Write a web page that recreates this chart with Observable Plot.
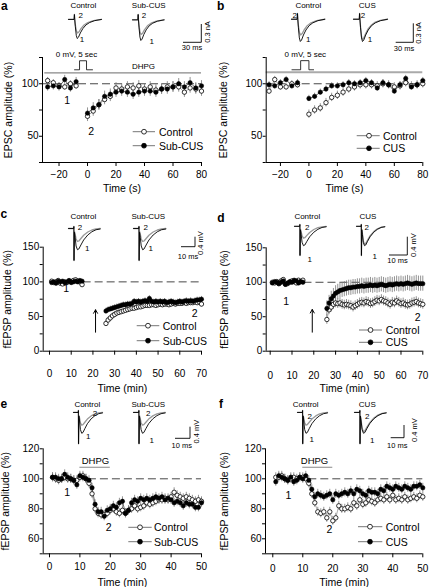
<!DOCTYPE html>
<html><head><meta charset="utf-8">
<script src="https://cdn.jsdelivr.net/npm/d3@7"></script>
<script src="https://cdn.jsdelivr.net/npm/@observablehq/plot@0.6"></script>
<style>
body{margin:0;background:#fff;}
#root{position:relative;width:429px;height:587px;overflow:hidden;background:#fff;font-family:"Liberation Sans",Arial,Helvetica,sans-serif;}
</style></head>
<body><div id="root"></div>
<script>
const FONT = '"Liberation Sans", Arial, Helvetica, sans-serif';

// ---------------- DATA ----------------
// Panels a, b: EPSC amplitude (%) vs time (s)
const abPreT = [-28,-24,-20,-16,-12,-8];
const abPostT = [0,4,8,12,16,20,24,28,32,36,40,44,48,52,56,60,64,68,72,76,80];
const aCtrlPre = [103,101,98,97,100,98];
const aSubPre = [97,98,97,104,96,102];
const aCtrlPost = [69,74,80,85,88,96,95,97,96,98,95,97,94,95,97,97,97,92,96,95,93];
const aSubPost = [72,77,80,88,90,92,93,92,90,92,93,93,92,95,95,97,100,97,101,96,98];
const bCtrlPre = [93,104,97,97,100,99];
const bCusPre = [99,98,101,104,98,101];
const bCtrlPost = [71,75,77,82,87,89,92,95,97,99,99,99,98,100,99,97,98,101,98,99,100];
const bCusPost = [86,88,92,95,98,98,99,101,100,101,103,101,96,101,99,93,99,105,97,99,103];

// Panels c, d: fEPSP amplitude (%) vs time (min)
const cdPreT = [1,2,3,4,5,6,7,8,9,10,11,12,13,14,15];
const cdPostT = [26,27,28,29,30,31,32,33,34,35,36,37,38,39,40,41,42,43,44,45,46,47,48,49,50,51,52,53,54,55,56,57,58,59,60,61,62,63,64,65,66,67,68,69,70];
const cCtrlPre = [101,99,100,102,98,97,100,99,101,100,102,103,101,100,96];
const cSubPre = [99,100,98,101,100,101,99,100,102,99,100,101,100,102,101];
const cCtrlPost = [40,45,48,51,53,55,56,57,58,59,60,61,62,62,63,64,64,65,66,66,66,67,67,66,67,68,67,68,68,67,68,69,68,69,69,69,70,69,70,70,70,71,70,71,68];
const cSubPost = [58,60,61,62,63,64,65,66,67,67,68,68,69,72,71,72,71,72,73,72,76,72,71,72,71,72,71,72,70,71,72,71,70,71,72,71,72,73,72,73,72,73,74,74,75];
const dCtrlPre = [100,99,101,98,102,104,97,98,100,102,101,99,103,101,103];
const dCusPre = [99,101,100,98,100,102,97,99,101,100,103,102,99,101,100];
const dCtrlPost = [46,60,64,68,70,69,70,68,67,68,67,66,64,66,68,70,71,70,72,71,69,70,72,74,73,75,73,72,70,68,71,70,73,71,69,70,68,67,68,70,71,72,70,69,68];
const dCusPost = [62,70,76,80,84,86,88,89,90,91,92,92,93,93,94,94,95,94,95,95,96,95,96,95,96,97,96,95,96,97,96,97,98,97,98,97,98,99,98,97,98,99,98,98,98];

// Panels e, f: fEPSP amplitude (%) vs time (min)
const efT = [1,2,3,4,5,6,7,8,9,10,11,12,13,14,15,16,17,18,19,20,21,22,23,24,25,26,27,28,29,30,31,32,33,34,35,36,37,38,39,40,41,42,43,44,45,46,47,48,49,50];
const eCtrl = [101,100,99,100,101,100,100,99,99,101,102,100,97,90,80,77,76,76,77,79,80,78,77,79,77,79,80,82,80,81,82,84,83,84,85,86,86,87,86,88,91,89,88,87,88,87,86,85,86,85];
const eSub = [101,101,100,100,103,101,100,99,96,102,101,100,99,94,83,78,78,75,79,80,82,81,84,85,77,79,84,86,85,87,86,87,86,87,88,87,88,86,87,86,84,85,84,82,84,83,83,81,81,84];
const fCtrl = [101,101,102,100,99,100,101,100,101,101,100,97,90,84,78,77,78,74,78,72,74,82,80,80,81,80,84,82,86,83,84,86,85,84,86,87,86,88,86,89,86,87,86,88,86,87,88,87,89,88];
const fCus = [98,102,101,100,99,101,98,99,101,100,102,99,93,88,90,89,88,89,90,86,90,89,90,91,90,92,90,93,92,90,89,92,91,91,90,93,92,95,94,93,95,94,93,95,94,93,95,95,96,94];

// typical SEM per series [pre, post]
const aErr = {ctrl:[3,5], str:[4,5]};
const bErr = {ctrl:[3,4], str:[3,3]};
const cErr = {ctrl:[2,4], str:[2,4]};
const dErr = {ctrl:[2,7], str:[2,11]};
const eErr = {ctrl:[3,3], str:[3,3]};
const fErr = {ctrl:[2,3], str:[3,3]};

// annotations (data units)
const aPulseT = [-9.1,-5.6,-5.6,-0.7,-0.7,3.5];
const aPulseV = [113.3,113.3,121.9,121.9,113.3,113.3];
const bPulseT = [-11.9,-5.8,-5.8,0,0,3.3];
const bPulseV = [113.3,113.3,122,122,113.3,113.3];
const abDhpgSpan = [-30,80];
const efDhpgSpan = [10,20];
const phaseLabels = ["1","2"];

// inset traces: [ms, amplitude]
const epscTrace1 = [[0,0],[9,0],[9.5,0.08],[10,0],[11,-0.12],[12.5,-0.26],[14,-0.31],[16,-0.29],[19,-0.22],[23,-0.15],[28,-0.09],[34,-0.05],[42,-0.02],[53,0]];
const epscTrace2 = [[0,0],[9,0],[9.5,0.08],[10,0],[11,-0.09],[12.5,-0.18],[14.5,-0.22],[17,-0.2],[20,-0.15],[25,-0.09],[31,-0.05],[40,-0.02],[53,0]];
const epscTraceNear = [[0,0],[9,0],[9.5,0.08],[10,0],[11,-0.11],[12.5,-0.24],[14,-0.28],[16,-0.26],[19,-0.2],[23,-0.13],[28,-0.08],[34,-0.04],[42,-0.015],[53,0]];
const fepspTrace1 = [[0,0],[3.8,0],[3.9,0.08],[4,-1.28],[4.3,-0.15],[4.8,-0.35],[5.5,-0.7],[6.5,-0.85],[7.5,-0.82],[9,-0.66],[11,-0.46],[14,-0.26],[17,-0.13],[20,-0.05],[23,-0.02]];
const fepspTrace2 = [[0,0],[3.8,0],[3.9,0.08],[4,-1.28],[4.3,-0.12],[4.8,-0.22],[5.5,-0.42],[6.5,-0.52],[7.5,-0.5],[9,-0.4],[11,-0.27],[14,-0.14],[17,-0.06],[20,-0.02],[23,0]];
const fepspTraceNear = [[0,0],[3.8,0],[3.9,0.08],[4,-1.28],[4.3,-0.14],[4.8,-0.32],[5.5,-0.64],[6.5,-0.78],[7.5,-0.75],[9,-0.6],[11,-0.42],[14,-0.23],[17,-0.11],[20,-0.04],[23,-0.01]];
const scaleBarText = [["30 ms","0.3 nA"],["30 ms","0.3 nA"],["10 ms","0.4 mV"],["10 ms","0.4 mV"],["10 ms","0.4 mV"],["10 ms","0.4 mV"]];

// ---------------- HELPERS ----------------
const root = document.getElementById("root");
function place(el, x, y) {
  el.style.position = "absolute"; el.style.left = x + "px"; el.style.top = y + "px";
  root.appendChild(el); return el;
}
function series(t, v, err, seg) { return t.map((x, i) => ({x, y: v[i], e: err, seg})); }

function mainPanel(cfg) {
  const ctrl = [...series(cfg.preT, cfg.ctrlPre, cfg.err.ctrl[0], "pre"), ...series(cfg.postT, cfg.ctrlPost, cfg.err.ctrl[1], "post")];
  const str = [...series(cfg.preT, cfg.strPre, cfg.err.str[0], "pre"), ...series(cfg.postT, cfg.strPost, cfg.err.str[1], "post")];
  const marks = [];
  marks.push(Plot.ruleY([100], {x1: cfg.dash[0], x2: cfg.dash[1], stroke: "#333", strokeWidth: 0.9, strokeDasharray: "8,4"}));
  if (cfg.bar) marks.push(Plot.ruleY([cfg.bar.y], {x1: cfg.bar.span[0], x2: cfg.bar.span[1], stroke: cfg.bar.color, strokeWidth: cfg.bar.w}));
  if (cfg.pulse) marks.push(Plot.line(cfg.pulse.t.map((t, i) => ({t, v: cfg.pulse.v[i]})), {x: "t", y: "v", stroke: "#000", strokeWidth: 0.8}));
  for (const d of [ctrl, str]) marks.push(Plot.ruleX(d, {x: "x", y1: r => r.y - r.e, y2: r => r.y + r.e, stroke: "#777", strokeWidth: 0.8}));
  marks.push(Plot.line(ctrl, {x: "x", y: "y", z: "seg", stroke: "#999", strokeWidth: 0.8}));
  marks.push(Plot.line(str, {x: "x", y: "y", z: "seg", stroke: "#444", strokeWidth: 0.8}));
  marks.push(Plot.dot(ctrl, {x: "x", y: "y", r: 2.2, fill: "white", stroke: "black", strokeWidth: 0.8}));
  marks.push(Plot.dot(str, {x: "x", y: "y", r: 2.2, fill: "black", stroke: "black", strokeWidth: 0.5}));
  if (cfg.labels) marks.push(Plot.text(cfg.labels, {x: "x", y: "y", text: "t", fontSize: 10.5}));
  if (cfg.texts) for (const t of cfg.texts) marks.push(Plot.text([t], {x: "x", y: "y", text: "t", fontSize: t.size}));
  if (cfg.arrow) marks.push(Plot.arrow([cfg.arrow], {x: "x", y1: "y1", y2: "y2", stroke: "black", strokeWidth: 1, headLength: 6}));
  // axes
  marks.push(Plot.ruleX([cfg.xDomain[0]], {stroke: "black", strokeWidth: 1}));
  marks.push(Plot.ruleY([cfg.yDomain[0]], {stroke: "black", strokeWidth: 1}));
  marks.push(Plot.axisX({ticks: cfg.xTicks, tickSize: 4, tickPadding: cfg.xPad, fontSize: 10, label: null}));
  marks.push(Plot.axisY({ticks: cfg.yTicks, tickSize: 3, tickPadding: 1, fontSize: 10, label: null}));
  marks.push(Plot.axisY({ticks: cfg.yMinor, tickSize: 3, tickFormat: () => "", label: null}));
  marks.push(Plot.text([cfg.xLabel], {frameAnchor: "bottom", lineAnchor: "middle", textAnchor: "middle", dy: cfg.xTitleDy, text: d => d, fontSize: 10.5}));
  marks.push(Plot.text([cfg.yLabel], {frameAnchor: "left", lineAnchor: "middle", textAnchor: "middle", dx: cfg.yTitleDx, rotate: -90, text: d => d, fontSize: 10.5}));
  const svg = Plot.plot({
    width: cfg.w, height: cfg.h,
    marginLeft: cfg.m[0], marginRight: cfg.m[1], marginTop: cfg.m[2], marginBottom: cfg.m[3],
    x: {domain: cfg.xDomain}, y: {domain: cfg.yDomain},
    style: {background: "transparent", overflow: "visible", fontFamily: FONT, fontSize: "10px", color: "black"},
    marks
  });
  place(svg, cfg.left, cfg.top);
}

function inset(box, xDom, yDom, t1, t2) {
  const svg = Plot.plot({
    width: box[2], height: box[3], margin: 0,
    x: {domain: xDom, axis: null}, y: {domain: yDom, axis: null},
    style: {background: "transparent", overflow: "visible"},
    marks: [
      Plot.line(t2, {x: d => d[0], y: d => d[1], stroke: "#999", strokeWidth: 1.3}),
      Plot.line(t1, {x: d => d[0], y: d => d[1], stroke: "#000", strokeWidth: 0.9})
    ]
  });
  place(svg, box[0], box[1]);
}

// ---------------- MAIN PANELS ----------------
const yEPSC = "EPSC amplitude (%)", yF = "fEPSP amplitude (%)";
mainPanel({left: 0, top: 0, w: 214, h: 195, m: [42, 13, 57, 33], xDomain: [-31.6, 80], yDomain: [25, 125],
  preT: abPreT, postT: abPostT, ctrlPre: aCtrlPre, ctrlPost: aCtrlPost, strPre: aSubPre, strPost: aSubPost, err: aErr,
  dash: [-31.6, 80], bar: {y: 110.4, span: abDhpgSpan, color: "#888", w: 1.3},
  pulse: {t: aPulseT, v: aPulseV},
  labels: [{x: -14.2, y: 84, t: phaseLabels[0]}, {x: 2.6, y: 54.5, t: phaseLabels[1]}],
  texts: [{x: -7.7, y: 127.9, t: "0 mV, 5 sec", size: 8}, {x: 39.3, y: 116.4, t: "DHPG", size: 8}],
  xTicks: [-20, 0, 20, 40, 60, 80], yTicks: [50, 100], yMinor: [25, 75, 125], xPad: 4.5,
  xLabel: "Time (s)", yLabel: yEPSC, xTitleDy: 26, yTitleDx: -34});

mainPanel({left: 214, top: 0, w: 215, h: 195, m: [51.7, 6.7, 57, 33], xDomain: [-30, 80], yDomain: [25, 125],
  preT: abPreT, postT: abPostT, ctrlPre: bCtrlPre, ctrlPost: bCtrlPost, strPre: bCusPre, strPost: bCusPost, err: bErr,
  dash: [-30, 80], bar: {y: 111, span: abDhpgSpan, color: "#aaa", w: 2},
  pulse: {t: bPulseT, v: bPulseV},
  texts: [{x: -2.5, y: 127.9, t: "0 mV, 5 sec", size: 8}],
  xTicks: [-20, 0, 20, 40, 60, 80], yTicks: [50, 100], yMinor: [25, 75, 125], xPad: 4.5,
  xLabel: "Time (s)", yLabel: yEPSC, xTitleDy: 26, yTitleDx: -42.5});

mainPanel({left: 0, top: 195, w: 214, h: 195, m: [42.7, 13, 51.7, 39.3], xDomain: [-2.9, 70], yDomain: [0, 150],
  preT: cdPreT, postT: cdPostT, ctrlPre: cCtrlPre, ctrlPost: cCtrlPost, strPre: cSubPre, strPost: cSubPost, err: cErr,
  dash: [15.5, 70],
  labels: [{x: 7.7, y: 90.5, t: phaseLabels[0]}, {x: 66.8, y: 54.8, t: phaseLabels[1]}],
  arrow: {x: 21.2, y1: 27.4, y2: 59.7},
  xTicks: [0, 10, 20, 30, 40, 50, 60, 70], yTicks: [0, 50, 100, 150], yMinor: [25, 75, 125], xPad: 15,
  xLabel: "Time (min)", yLabel: yF, xTitleDy: 37, yTitleDx: -36});

mainPanel({left: 214, top: 195, w: 215, h: 195, m: [51.7, 6.7, 52.3, 39.3], xDomain: [-1.83, 70], yDomain: [0, 150],
  preT: cdPreT, postT: cdPostT, ctrlPre: dCtrlPre, ctrlPost: dCtrlPost, strPre: dCusPre, strPost: dCusPost, err: dErr,
  dash: [15.5, 70],
  labels: [{x: 7.3, y: 72.4, t: phaseLabels[0]}, {x: 67.7, y: 48.5, t: phaseLabels[1]}],
  arrow: {x: 19.3, y1: 27.6, y2: 60.5},
  xTicks: [0, 10, 20, 30, 40, 50, 60, 70], yTicks: [0, 50, 100, 150], yMinor: [25, 75, 125], xPad: 17,
  xLabel: "Time (min)", yLabel: yF, xTitleDy: 37, yTitleDx: -41.7});

mainPanel({left: 0, top: 390, w: 214, h: 197, m: [42.7, 13, 58.3, 33.7], xDomain: [-2.07, 50], yDomain: [50, 120],
  preT: [], postT: efT, ctrlPre: [], ctrlPost: eCtrl, strPre: [], strPost: eSub, err: eErr,
  dash: [12.8, 50], bar: {y: 107.7, span: efDhpgSpan, color: "#888", w: 1},
  labels: [{x: 5.8, y: 91.1, t: phaseLabels[0]}, {x: 19.5, y: 67.7, t: phaseLabels[1]}],
  texts: [{x: 15.1, y: 111.6, t: "DHPG", size: 9.5}],
  xTicks: [0, 10, 20, 30, 40, 50], yTicks: [60, 80, 100, 120], yMinor: [50, 70, 90, 110], xPad: 5,
  xLabel: "Time (min)", yLabel: yF, xTitleDy: 28.5, yTitleDx: -37.7});

mainPanel({left: 214, top: 390, w: 215, h: 197, m: [51, 6.7, 58.3, 33.7], xDomain: [-2.43, 50], yDomain: [50, 120],
  preT: [], postT: efT, ctrlPre: [], ctrlPost: fCtrl, strPre: [], strPost: fCus, err: fErr,
  dash: [12, 50], bar: {y: 107.7, span: efDhpgSpan, color: "#888", w: 1},
  labels: [{x: 5.2, y: 88.9, t: phaseLabels[0]}, {x: 18.9, y: 66.2, t: phaseLabels[1]}],
  texts: [{x: 13.9, y: 111.6, t: "DHPG", size: 9.5}],
  xTicks: [0, 10, 20, 30, 40, 50], yTicks: [60, 80, 100, 120], yMinor: [50, 70, 90, 110], xPad: 7,
  xLabel: "Time (min)", yLabel: yF, xTitleDy: 29, yTitleDx: -41});

// ---------------- INSET TRACES ----------------
const eX = [0, 53], eY = [-0.31, 0.08];
inset([68, 14, 33, 24], eX, eY, epscTrace1, epscTrace2);
inset([131.7, 14, 31.6, 26], eX, eY, epscTrace1, epscTrace2);
inset([290.7, 13.3, 33.3, 28], eX, eY, epscTrace1, epscTrace2);
inset([353.3, 13.3, 34, 28], eX, eY, epscTrace1, epscTraceNear);
const fX = [0, 23], fY = [-1.28, 0.08];
inset([68.3, 226, 31.7, 34], fX, fY, fepspTrace1, fepspTrace2);
inset([132.7, 226, 32.3, 34], fX, fY, fepspTrace1, fepspTrace2);
inset([294, 224, 31.7, 31], fX, fY, fepspTrace1, fepspTrace2);
inset([355.7, 224, 28.3, 31], fX, fY, fepspTrace1, fepspTraceNear);
inset([72.7, 410, 29, 33.3], fX, fY, fepspTrace1, fepspTrace2);
inset([133.3, 410, 31.7, 33.3], fX, fY, fepspTrace1, fepspTrace2);
inset([297.3, 410, 30, 33.3], fX, fY, fepspTrace1, fepspTrace2);
inset([354, 410, 31.7, 33.3], fX, fY, fepspTrace1, fepspTraceNear);

// ---------------- OVERLAY (labels, legends, scale bars) ----------------
const ov = d3.create("svg").attr("width", 429).attr("height", 587)
  .style("font-family", FONT).style("overflow", "visible");
place(ov.node(), 0, 0);
function txt(x, y, s, o = {}) {
  const t = ov.append("text").attr("x", x).attr("y", y).text(s)
    .attr("font-size", o.size || 10).attr("text-anchor", o.anchor || "middle")
    .attr("dominant-baseline", o.base || "central").attr("fill", "black");
  if (o.weight) t.attr("font-weight", o.weight);
  if (o.rotate) t.attr("transform", `rotate(${o.rotate},${x},${y})`);
}
function seg(x1, y1, x2, y2, c = "black", w = 1) {
  ov.append("line").attr("x1", x1).attr("y1", y1).attr("x2", x2).attr("y2", y2).attr("stroke", c).attr("stroke-width", w);
}
// panel letters
[["a", 1, 9.5], ["b", 217, 9.5], ["c", 0.5, 218.3], ["d", 217.3, 221.7], ["e", 0.5, 408.3], ["f", 219, 408.3]]
  .forEach(([s, x, y]) => txt(x, y, s, {size: 12, anchor: "start", base: "auto", weight: "bold"}));
// inset titles
[["Control", 83.3, 5.5], ["Sub-CUS", 148.7, 5.5], ["Control", 308.3, 5.5], ["CUS", 367.3, 5.5],
 ["Control", 83.3, 216.7], ["Sub-CUS", 148.3, 216.7], ["Control", 307.3, 216.7], ["CUS", 368, 216.7],
 ["Control", 87.3, 404], ["Sub-CUS", 148.3, 404], ["Control", 305.7, 404.3], ["CUS", 367.3, 404.3]]
  .forEach(([s, x, y]) => txt(x, y, s, {size: 8}));
// trace numbers
[["2", 80.7, 15.7], ["1", 82, 39], ["2", 144, 15.7], ["1", 151.7, 41.7],
 ["2", 294.7, 15.7], ["1", 308.3, 39], ["2", 363, 15.7], ["1", 370, 39],
 ["2", 80, 227.3], ["1", 87.3, 248.3], ["2", 145.7, 227.3], ["1", 150.7, 248.3],
 ["2", 307.3, 227.3], ["1", 309.7, 259], ["2", 366.7, 227.3], ["1", 374.7, 256.7],
 ["2", 95, 413.3], ["1", 88.3, 436.7], ["2", 148.3, 413.3], ["1", 151.7, 440],
 ["2", 309.7, 416], ["1", 311.7, 439.3], ["2", 367.3, 416], ["1", 372.3, 440]]
  .forEach(([s, x, y]) => txt(x, y, s, {size: 8}));
// scale bars
const bars = [
  [183, 201.3, 42.3, 24, [192, 47.8], [207, 32]],
  [395.7, 413.3, 42.3, 23.3, [404, 48.3], [418.5, 33]],
  [181, 195, 246.7, 236.7, [188, 256.2], [200, 243]],
  [389, 407.3, 255, 236.7, [397.5, 260.5], [413.3, 245]],
  [175, 190, 438.3, 426.7, [181.7, 445], [196.7, 431.7]],
  [390.7, 404, 437.7, 425, [397.3, 445], [414, 430]]
];
bars.forEach((b, i) => {
  seg(b[0], b[2], b[1], b[2], "black", 0.9);
  seg(b[1], b[3], b[1], b[2], "black", 0.9);
  txt(b[4][0], b[4][1], scaleBarText[i][0], {size: 7.5});
  txt(b[5][0], b[5][1], scaleBarText[i][1], {size: 7.5, rotate: -90});
});
// legends
const legends = [
  {x1: 132.7, x2: 155, mx: 144, tx: 159, ys: [131.7, 145.7], labels: ["Control", "Sub-CUS"]},
  {x1: 356.7, x2: 379.7, mx: 369, tx: 383, ys: [135.7, 148.3], labels: ["Control", "CUS"]},
  {x1: 136.7, x2: 159.3, mx: 148, tx: 162.7, ys: [325.7, 340.7], labels: ["Control", "Sub-CUS"]},
  {x1: 359, x2: 382, mx: 370.5, tx: 385.7, ys: [330, 342.3], labels: ["Control", "CUS"]},
  {x1: 128.3, x2: 151.7, mx: 140, tx: 154, ys: [527.3, 541.7], labels: ["Control", "Sub-CUS"]},
  {x1: 358, x2: 382.3, mx: 370, tx: 385.7, ys: [526.7, 541.7], labels: ["Control", "CUS"]}
];
legends.forEach(L => {
  L.ys.forEach((y, k) => {
    seg(L.x1, y, L.x2, y, "#777", 1);
    ov.append("circle").attr("cx", L.mx).attr("cy", y).attr("r", 2.4)
      .attr("fill", k === 0 ? "white" : "black").attr("stroke", "black").attr("stroke-width", 0.8);
    txt(L.tx, y, L.labels[k], {size: 10.5, anchor: "start"});
  });
});
</script></body></html>
